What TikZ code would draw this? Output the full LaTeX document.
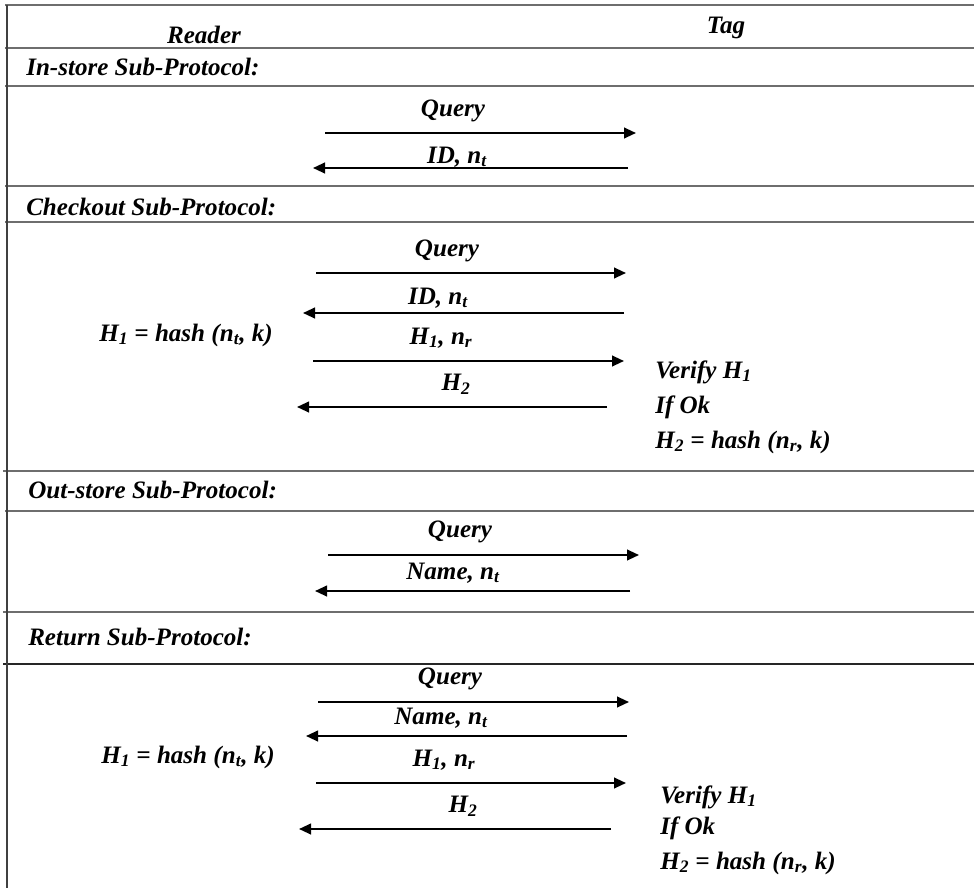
\documentclass[tikz,border=0pt]{standalone}
\usepackage{fontspec}
\setmainfont{Liberation Serif}
\usetikzlibrary{arrows.meta}

\begin{document}
\begin{tikzpicture}[x=0.75pt,y=0.75pt,yscale=-1,xscale=1,
  lbl/.style={font=\fontsize{18.8}{22}\selectfont\bfseries\itshape, inner sep=0.75pt},
  rule/.style={draw={rgb,255:red,110;green,110;blue,110}, line width=1.6pt},
  msg/.style={draw=black, line width=1.5pt, -{Triangle[length=9pt,width=8pt]}}]
\useasboundingbox (0,0) rectangle (974,888);

% Table rules
\draw [rule] (5,5) -- (974,5) ;
\draw [rule] (5,48) -- (974,48) ;
\draw [rule] (5,86) -- (974,86) ;
\draw [rule] (5,186) -- (974,186) ;
\draw [rule] (5,222) -- (974,222) ;
\draw [rule] (3,471) -- (974,471) ;
\draw [rule] (5,511) -- (974,511) ;
\draw [rule] (3,612) -- (974,612) ;
\draw [rule, draw=black!85] (3,664) -- (974,664) ;
\draw [draw=black!75, line width=1.2pt] (7,5) -- (7,888) ;

% Text Node
\draw (204,35) node (reader) [lbl] {Reader};
% Text Node
\draw (726,28) node (tag) [lbl] {Tag};
% Text Node
\draw (25,67) node (instore) [lbl, anchor=west] {In-store Sub-Protocol:};
% Text Node
\draw (25,207) node (checkout) [lbl, anchor=west] {Checkout Sub-Protocol:};
% Text Node
\draw (27,490) node (outstore) [lbl, anchor=west] {Out-store Sub-Protocol:};
% Text Node
\draw (27,637) node (return) [lbl, anchor=west] {Return Sub-Protocol:};

% In-store
\draw (453,111) node (inQ) [lbl] {Query};
\draw (457,157) node (inID) [lbl] {ID, n\textsubscript{t}};
\coordinate (inQr) at (325,133);
\coordinate (inQt) at (636,133);
\coordinate (inIDt) at (628,168);
\coordinate (inIDr) at (313,168);
% Connection
\draw [msg] (inQr) -- (inQt) ;
% Connection
\draw [msg] (inIDt) -- (inIDr) ;

% Checkout
\draw (447,251) node (coQ) [lbl] {Query};
\draw (438,298) node (coID) [lbl] {ID, n\textsubscript{t}};
\draw (186,335) node (coHr) [lbl] {H\textsubscript{1} = hash (n\textsubscript{t}, k)};
\draw (441,338) node (coH1) [lbl] {H\textsubscript{1}, n\textsubscript{r}};
\draw (456,384) node (coH2) [lbl] {H\textsubscript{2}};
\draw (654,372) node (coVer) [lbl, anchor=west] {Verify H\textsubscript{1}};
\draw (654,407) node (coOk) [lbl, anchor=west] {If Ok};
\draw (654,442) node (coHt) [lbl, anchor=west] {H\textsubscript{2} = hash (n\textsubscript{r}, k)};
\coordinate (coQr) at (316,273);
\coordinate (coQt) at (626,273);
\coordinate (coIDt) at (624,313);
\coordinate (coIDr) at (303,313);
\coordinate (coH1r) at (313,361);
\coordinate (coH1t) at (624,361);
\coordinate (coH2t) at (607,407);
\coordinate (coH2r) at (297,407);
% Connection
\draw [msg] (coQr) -- (coQt) ;
% Connection
\draw [msg] (coIDt) -- (coIDr) ;
% Connection
\draw [msg] (coH1r) -- (coH1t) ;
% Connection
\draw [msg] (coH2t) -- (coH2r) ;

% Out-store
\draw (460,532) node (outQ) [lbl] {Query};
\draw (453,573) node (outN) [lbl] {Name, n\textsubscript{t}};
\coordinate (outQr) at (328,555);
\coordinate (outQt) at (639,555);
\coordinate (outNt) at (630,591);
\coordinate (outNr) at (315,591);
% Connection
\draw [msg] (outQr) -- (outQt) ;
% Connection
\draw [msg] (outNt) -- (outNr) ;

% Return
\draw (450,679) node (reQ) [lbl] {Query};
\draw (441,718) node (reN) [lbl] {Name, n\textsubscript{t}};
\draw (188,757) node (reHr) [lbl] {H\textsubscript{1} = hash (n\textsubscript{t}, k)};
\draw (444,760) node (reH1) [lbl] {H\textsubscript{1}, n\textsubscript{r}};
\draw (463,806) node (reH2) [lbl] {H\textsubscript{2}};
\draw (659,797) node (reVer) [lbl, anchor=west] {Verify H\textsubscript{1}};
\draw (659,828) node (reOk) [lbl, anchor=west] {If Ok};
\draw (659,863) node (reHt) [lbl, anchor=west] {H\textsubscript{2} = hash (n\textsubscript{r}, k)};
\coordinate (reQr) at (318,702);
\coordinate (reQt) at (629,702);
\coordinate (reNt) at (627,736);
\coordinate (reNr) at (306,736);
\coordinate (reH1r) at (316,783);
\coordinate (reH1t) at (626,783);
\coordinate (reH2t) at (611,829);
\coordinate (reH2r) at (299,829);
% Connection
\draw [msg] (reQr) -- (reQt) ;
% Connection
\draw [msg] (reNt) -- (reNr) ;
% Connection
\draw [msg] (reH1r) -- (reH1t) ;
% Connection
\draw [msg] (reH2t) -- (reH2r) ;

\end{tikzpicture}
\end{document}
